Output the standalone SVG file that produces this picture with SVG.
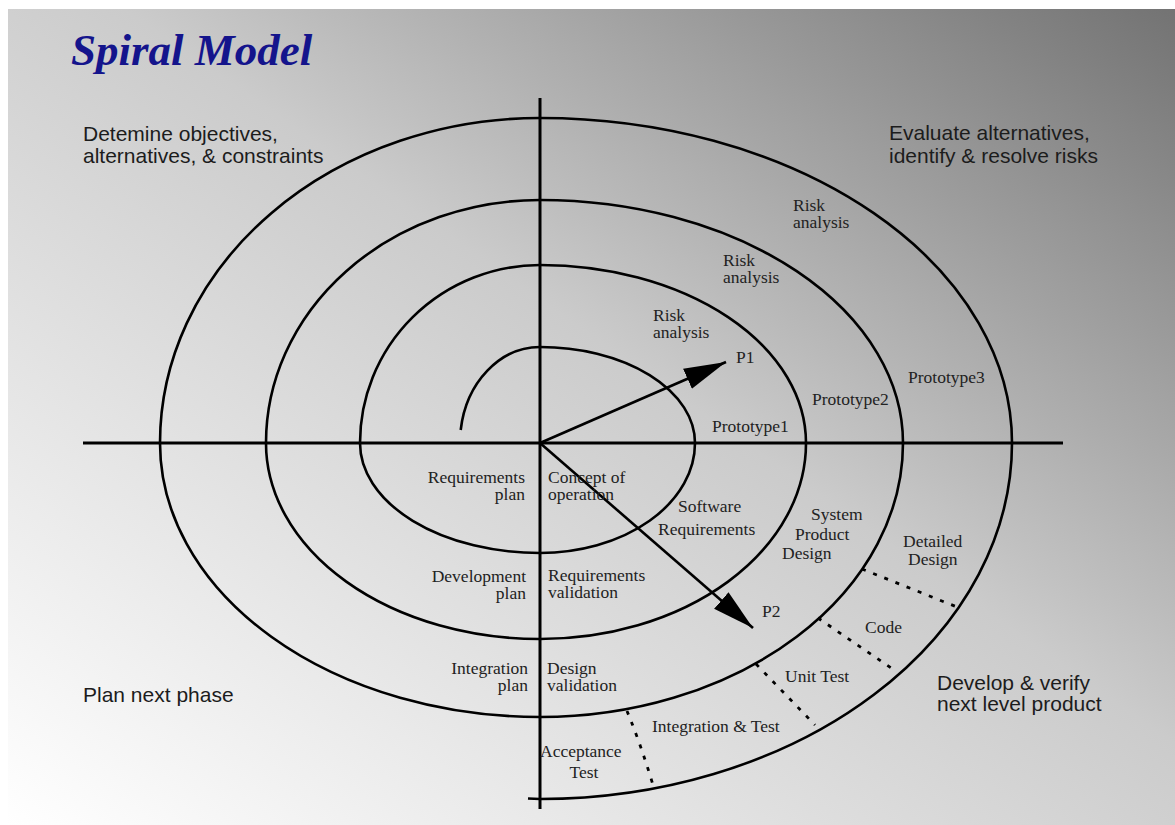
<svg xmlns="http://www.w3.org/2000/svg" width="1175" height="825" viewBox="0 0 1175 825">
<defs>
<linearGradient id="bg" x1="0" y1="1" x2="1" y2="0">
<stop offset="0" stop-color="#ffffff"/>
<stop offset="0.55" stop-color="#cbcbcb"/>
<stop offset="1" stop-color="#737373"/>
</linearGradient>
<marker id="head" markerUnits="userSpaceOnUse" markerWidth="44" markerHeight="24" refX="42" refY="11" orient="auto">
<path d="M0,0 L42,11 L0,22 Z" fill="#000"/>
</marker>
<style>
.sans{font-family:"Liberation Sans",Arial,sans-serif;font-size:21px;fill:#1c1c1c}
.ser{font-family:"Liberation Serif","Times New Roman",serif;font-size:17.5px;fill:#222}
.end{text-anchor:end}
.mid{text-anchor:middle}
.line{fill:none;stroke:#000;stroke-width:2.6}
.axis{fill:none;stroke:#000;stroke-width:3}
.dot{fill:none;stroke:#000;stroke-width:2.8;stroke-dasharray:4 8}
</style>
</defs>
<rect width="1175" height="825" fill="#fff"/>
<rect x="8" y="9" width="1167" height="816" fill="url(#bg)"/>
<text x="71" y="65" font-family="'Liberation Serif','Times New Roman',serif" font-size="45" font-weight="bold" font-style="italic" fill="#14148c">Spiral Model</text>
<g id="axes">
<line class="axis" x1="540" y1="98" x2="540" y2="809"/>
<line class="axis" x1="83" y1="443" x2="1063" y2="443"/>
</g>
<g id="spiral">
<path class="line" d="M460.7,430 A80,96 0 0 1 540,347 A155,96 0 0 1 695,443 A155,110 0 0 1 540,553 A180,110 0 0 1 360,443 A180,178 0 0 1 540,265 A266,178 0 0 1 806,443 A266,196 0 0 1 540,639 A274,196 0 0 1 266,443 A274,243 0 0 1 540,200 A363,243 0 0 1 903,443 A363,274 0 0 1 540,717 A380,274 0 0 1 160,443 A380,325 0 0 1 540,118 A472,325 0 0 1 1012,443 A472,356 0 0 1 540,799 L528,798.5"/>
</g>
<g id="connectors">
<line class="line" x1="540" y1="443" x2="726" y2="362" marker-end="url(#head)"/>
<line class="line" x1="540" y1="443" x2="753" y2="628" marker-end="url(#head)"/>
<path class="dot" d="M627,711 Q641,745 653,785"/>
<path class="dot" d="M756,664 L815,725"/>
<path class="dot" d="M818,618 L897,672"/>
<path class="dot" d="M862,569 L957,607"/>
</g>
<g id="q-objectives"><text class="sans" x="83" y="141">Detemine objectives,</text><text class="sans" x="83" y="163">alternatives, &amp; constraints</text></g>
<g id="q-evaluate"><text class="sans" x="889" y="140">Evaluate alternatives,</text><text class="sans" x="889" y="163">identify &amp; resolve risks</text></g>
<g id="q-plan"><text class="sans" x="83" y="702">Plan next phase</text></g>
<g id="q-develop"><text class="sans" x="937" y="690">Develop &amp; verify</text><text class="sans" x="937" y="711">next level product</text></g>
<g id="risk3"><text class="ser" x="793" y="211">Risk</text><text class="ser" x="793" y="228">analysis</text></g>
<g id="risk2"><text class="ser" x="723" y="266">Risk</text><text class="ser" x="723" y="283">analysis</text></g>
<g id="risk1"><text class="ser" x="653" y="321">Risk</text><text class="ser" x="653" y="338">analysis</text></g>
<g id="p1"><text class="ser" x="736" y="363">P1</text></g>
<g id="proto1"><text class="ser" x="712" y="432">Prototype1</text></g>
<g id="proto2"><text class="ser" x="812" y="405">Prototype2</text></g>
<g id="proto3"><text class="ser" x="908" y="383">Prototype3</text></g>
<g id="req-plan"><text class="ser end" x="525" y="483">Requirements</text><text class="ser end" x="525" y="500">plan</text></g>
<g id="concept"><text class="ser" x="548" y="483">Concept of</text><text class="ser" x="548" y="500">operation</text></g>
<g id="sw-req"><text class="ser" x="678" y="512">Software</text><text class="ser" x="658" y="535">Requirements</text></g>
<g id="sys-design"><text class="ser" x="811" y="520">System</text><text class="ser" x="795" y="540">Product</text><text class="ser" x="782" y="559">Design</text></g>
<g id="det-design"><text class="ser" x="903" y="547">Detailed</text><text class="ser" x="908" y="565">Design</text></g>
<g id="dev-plan"><text class="ser end" x="526" y="582">Development</text><text class="ser end" x="526" y="599">plan</text></g>
<g id="req-val"><text class="ser" x="548" y="581">Requirements</text><text class="ser" x="548" y="598">validation</text></g>
<g id="p2"><text class="ser" x="762" y="617">P2</text></g>
<g id="code"><text class="ser" x="865" y="633">Code</text></g>
<g id="unit-test"><text class="ser" x="785" y="682">Unit Test</text></g>
<g id="int-plan"><text class="ser end" x="528" y="674">Integration</text><text class="ser end" x="528" y="691">plan</text></g>
<g id="design-val"><text class="ser" x="547" y="674">Design</text><text class="ser" x="547" y="691">validation</text></g>
<g id="int-test"><text class="ser" x="652" y="732">Integration &amp; Test</text></g>
<g id="acc-test"><text class="ser" x="540" y="757">Acceptance</text><text class="ser mid" x="584" y="778">Test</text></g>
</svg>
